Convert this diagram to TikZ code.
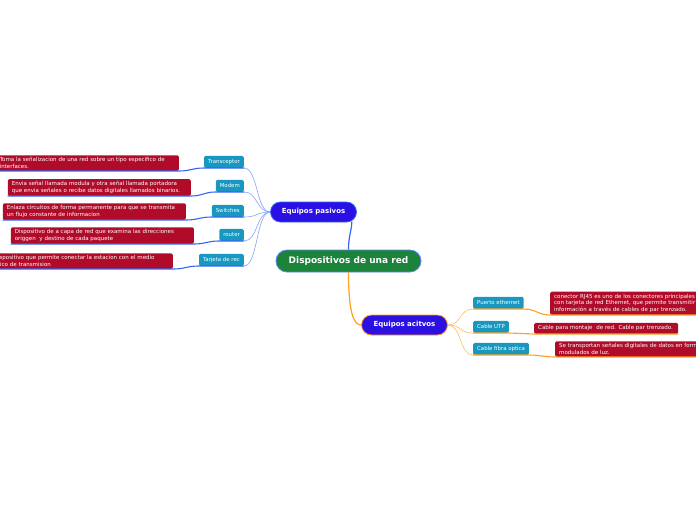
\documentclass[tikz,border=0pt]{standalone}
\usepackage{fontspec}
\setmainfont{DejaVu Sans}
\usetikzlibrary{positioning,calc}
\definecolor{mygreen}{RGB}{28,132,58}
\definecolor{myviolet}{RGB}{42,16,226}
\definecolor{myteal}{RGB}{24,152,192}
\definecolor{myred}{RGB}{176,12,42}
\definecolor{myblue}{RGB}{50,100,245}
\definecolor{myorange}{RGB}{255,160,30}

\tikzset{
  raiz/.style={fill=mygreen, draw=myblue!80, line width=0.8pt, text=white,
               minimum width=145pt, minimum height=22pt, rounded corners=11pt,
               font=\fontsize{9}{11}\selectfont\bfseries},
  rama/.style={fill=myviolet, line width=0.8pt, text=white,
               minimum width=86pt, minimum height=20pt, rounded corners=10pt,
               font=\fontsize{7}{8}\selectfont\bfseries},
  hoja/.style={fill=myteal, rounded corners=1.5pt, text=white, inner xsep=4pt,
               inner ysep=0pt, minimum height=12pt,
               font=\fontsize{5.4}{6}\selectfont},
  desc/.style={fill=myred, rounded corners=1.5pt, text=white, align=left,
               inner xsep=4pt, inner ysep=2.3pt, minimum height=11pt,
               font=\fontsize{5.5}{6.6}\selectfont},
  ramapas/.style={myblue!60, line width=0.6pt},
  subpas/.style={myblue, line width=1.1pt},
  ramaact/.style={myorange!70, line width=0.6pt},
  subact/.style={myorange, line width=1.1pt}
}

\begin{document}
\begin{tikzpicture}[x=1pt,y=-1pt]
  \useasboundingbox (0,0) rectangle (696,520);
  \clip (0,0) rectangle (696,520);

  \node[raiz] (red) at (348.5,261) {Dispositivos de una red};
  \node[rama, draw=myblue] (pasivos) at (313.5,212) {Equipos pasivos};
  \node[rama, draw=myorange] (activos) at (404.5,325) {Equipos acitvos};

  \draw[myblue, line width=1.2pt] (red.north) .. controls +(0,-14) and +(0,8) .. ($(pasivos.south east)+(-5,-1)$);
  \draw[myorange, line width=1.2pt] (red.south) .. controls +(0,38) and +(-8,0) .. (activos.west);

  % equipos pasivos
  \foreach \i/\lbl/\yb/\dx/\dy/\txt in {
    1/Transceptor/168/179/171/{Toma la señalizacion de una red sobre un tipo especifico de\\interfaces.},
    2/Modem/192/191/196/{Envia señal llamada modula y otra señal llamada portadora\\que envia señales o recibe datos digitales llamados binarios.},
    3/Switches/217/186/220/{Enlaza circuitos de forma permanente para que se transmita\\un flujo constante de informacion},
    4/router/241/194/244/{Dispositivo de a capa de red que examina las direcciones\\origgen\ \ y destino de cada paquete},
    5/Tarjeta de rec/266/173/269/{Dispositivo que permite conectar la estacion con el medio\\fisico de transmision}}{
    \node[hoja, anchor=south east] (p\i) at (244,\yb) {\lbl};
    \node[desc, text width=175pt, anchor=south east] (dp\i) at (\dx,\dy) {\txt};
    \draw[ramapas] (pasivos.west) .. controls +(-14,0) and +(14,0) .. (p\i.south east);
    \draw[subpas] (p\i.south east) -- (p\i.south west)
      .. controls +(-12,0) and +(12,0) .. (dp\i.south east) -- (dp\i.south west);
  }

  % equipos activos
  \foreach \i/\lbl/\yb/\dx/\dy/\tw/\txt in {
    1/Puerto ethernet/309/550/315/175pt/{conector RJ45 es uno de los conectores principales\\con tarjeta de red Ethernet, que permite transmitir\\información a través de cables de par trenzado.},
    2/Cable UTP/333/534/334/136pt/{Cable para montaje\ \ de red. Cable par trenzado.},
    3/Cable fibra optica/355/555/357/175pt/{Se transportan señales digitales de datos en form\\modulados de luz.}}{
    \node[hoja, anchor=south west] (a\i) at (473,\yb) {\lbl};
    \node[desc, text width=\tw, anchor=south west] (da\i) at (\dx,\dy) {\txt};
    \draw[ramaact] (activos.east) .. controls +(14,0) and +(-14,0) .. (a\i.south west);
    \draw[subact] (a\i.south west) -- (a\i.south east)
      .. controls +(12,0) and +(-12,0) .. (da\i.south west) -- (da\i.south east);
  }
\end{tikzpicture}
\end{document}
